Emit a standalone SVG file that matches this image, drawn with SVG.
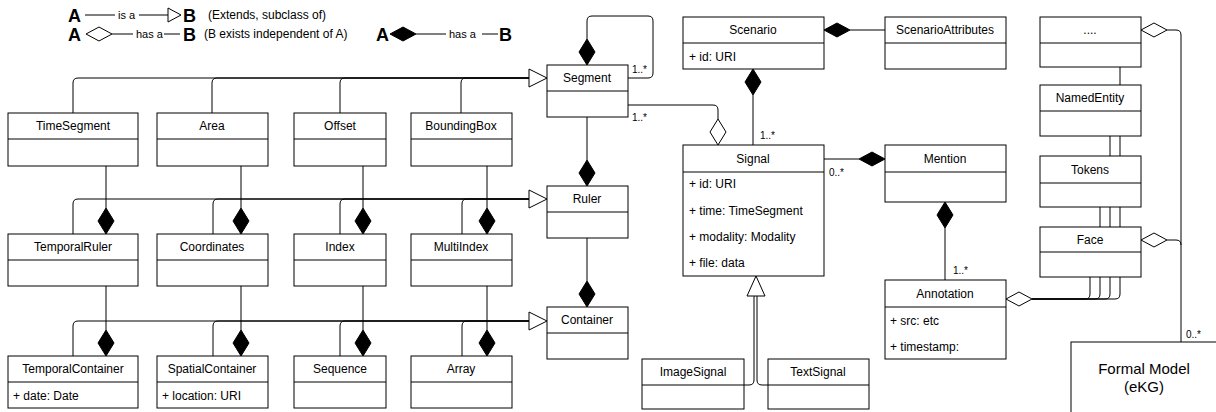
<svg xmlns="http://www.w3.org/2000/svg" width="1216" height="412" viewBox="0 0 1216 412">
<style>
.box{fill:#fff;stroke:#000;stroke-width:1}
.ln{fill:none;stroke:#000;stroke-width:1}
.t{font-family:"Liberation Sans",Arial,sans-serif;font-size:12px;fill:#000}
.c{text-anchor:middle}
.s{font-family:"Liberation Sans",Arial,sans-serif;font-size:10px;fill:#000}
.big{font-family:"Liberation Sans",Arial,sans-serif;font-size:18px;font-weight:bold;fill:#000}
.fd{fill:#000;stroke:#000}
.hd{fill:#fff;stroke:#000}
</style>
<defs>
<path id="dv" d="M0,0 L8,13 L0,26 L-8,13 Z"/>
<path id="dh" d="M0,0 L13,-7 L26,0 L13,7 Z"/>
</defs>
<rect width="1216" height="412" fill="#fff"/>
<g id="legend">
<text class="big" x="68" y="22">A</text>
<path class="ln" d="M85,15 H115 M139,15 H168"/>
<text class="t" x="118" y="19" style="font-size:11px">is a</text>
<polygon class="hd" points="168,8 181,15 168,22"/>
<text class="big" x="183" y="22">B</text>
<text class="t" x="208" y="19">(Extends, subclass of)</text>
<text class="big" x="68" y="41">A</text>
<use href="#dh" class="hd" x="86" y="34"/>
<path class="ln" d="M112,34 H133 M164,34 H180"/>
<text class="t" x="136" y="38" style="font-size:11px">has a</text>
<text class="big" x="183" y="41">B</text>
<text class="t" x="204" y="38">(B exists independent of A)</text>
<text class="big" x="376" y="41">A</text>
<use href="#dh" class="fd" x="390" y="34"/>
<path class="ln" d="M416,34 H446 M482,34 H498"/>
<text class="t" x="449" y="38" style="font-size:11px">has a</text>
<text class="big" x="499" y="41">B</text>
</g>
<g id="connectors">
<path class="ln" d="M73,113 V83 Q73,78 78,78 H530 M212,113 V83 Q212,78 217,78 H530 M340,113 V83 Q340,78 345,78 H530 M461,113 V83 Q461,78 466,78 H530"/>
<polygon class="hd" points="529,69 547,78 529,87"/>
<path class="ln" d="M73,234 V204 Q73,199 78,199 H529 M213,234 V204 Q213,199 218,199 H529 M340,234 V204 Q340,199 345,199 H529 M462,234 V204 Q462,199 467,199 H529"/>
<polygon class="hd" points="529,190 547,199 529,208"/>
<path class="ln" d="M73,356 V326 Q73,321 78,321 H529 M213,356 V326 Q213,321 218,321 H529 M340,356 V326 Q340,321 345,321 H529 M462,356 V326 Q462,321 467,321 H529"/>
<polygon class="hd" points="529,312 547,321 529,330"/>
<path class="ln" d="M106,166 V208 M241,166 V208 M363,166 V208 M487,166 V208 M106,286 V330 M241,286 V330 M363,286 V330 M487,286 V330"/>
<use href="#dv" class="fd" x="106" y="208"/>
<use href="#dv" class="fd" x="241" y="208"/>
<use href="#dv" class="fd" x="363" y="208"/>
<use href="#dv" class="fd" x="487" y="208"/>
<use href="#dv" class="fd" x="106" y="330"/>
<use href="#dv" class="fd" x="241" y="330"/>
<use href="#dv" class="fd" x="363" y="330"/>
<use href="#dv" class="fd" x="487" y="330"/>
<path class="ln" d="M587,39 V21 Q587,16 592,16 H648 Q653,16 653,21 V73 Q653,78 648,78 H628"/>
<use href="#dv" class="fd" x="587" y="39"/>
<text class="s" x="632" y="73">1..*</text>
<path class="ln" d="M628,105 H713 Q718,105 718,110 V119"/>
<use href="#dv" class="hd" x="718" y="119"/>
<text class="s" x="632" y="121">1..*</text>
<path class="ln" d="M587,117 V160 M587,238 V281"/>
<use href="#dv" class="fd" x="587" y="160"/>
<use href="#dv" class="fd" x="587" y="281"/>
<path class="ln" d="M753,95 V145"/>
<use href="#dv" class="fd" x="753" y="69"/>
<text class="s" x="760" y="139">1..*</text>
<path class="ln" d="M850,30 H885"/>
<use href="#dh" class="fd" x="824" y="30"/>
<path class="ln" d="M824,159 H859"/>
<use href="#dh" class="fd" x="859" y="159"/>
<text class="s" x="829" y="176">0..*</text>
<path class="ln" d="M945,228 V280"/>
<use href="#dv" class="fd" x="945" y="202"/>
<text class="s" x="953" y="274">1..*</text>
<path class="ln" d="M1120,67 V294 Q1120,299 1115,299 H1032 M1110,136 V294 Q1110,299 1105,299 H1032 M1100,207 V294 Q1100,299 1095,299 H1032 M1090,277 V294 Q1090,299 1085,299 H1032"/>
<use href="#dh" class="hd" x="1006" y="299"/>
<path class="ln" d="M1167,30 H1176 Q1181,30 1181,35 V342 M1167,240 H1176 Q1181,240 1181,245"/>
<use href="#dh" class="hd" x="1141" y="30"/>
<use href="#dh" class="hd" x="1141" y="240"/>
<text class="s" x="1186" y="338">0..*</text>
<path class="ln" d="M744,385 H749 Q754,385 754,380 V296 M768,385 H762 Q757,385 757,380 V296"/>
<polygon class="hd" points="756,276 765,296 747,296"/>
</g>
<g id="TimeSegment"><rect class="box" x="8" y="113" width="130" height="53"/><path class="ln" d="M8,139 H138"/><text class="t c" x="73" y="130">TimeSegment</text></g>
<g id="Area"><rect class="box" x="157" y="113" width="111" height="53"/><path class="ln" d="M157,139 H268"/><text class="t c" x="212" y="130">Area</text></g>
<g id="Offset"><rect class="box" x="294" y="113" width="92" height="53"/><path class="ln" d="M294,139 H386"/><text class="t c" x="340" y="130">Offset</text></g>
<g id="BoundingBox"><rect class="box" x="411" y="113" width="101" height="53"/><path class="ln" d="M411,139 H512"/><text class="t c" x="461" y="130">BoundingBox</text></g>
<g id="Segment"><rect class="box" x="547" y="65" width="81" height="52"/><path class="ln" d="M547,91 H628"/><text class="t c" x="587" y="82">Segment</text></g>
<g id="TemporalRuler"><rect class="box" x="8" y="234" width="130" height="52"/><path class="ln" d="M8,260 H138"/><text class="t c" x="73" y="251">TemporalRuler</text></g>
<g id="Coordinates"><rect class="box" x="157" y="234" width="111" height="52"/><path class="ln" d="M157,260 H268"/><text class="t c" x="212" y="251">Coordinates</text></g>
<g id="Index"><rect class="box" x="294" y="234" width="92" height="52"/><path class="ln" d="M294,260 H386"/><text class="t c" x="340" y="251">Index</text></g>
<g id="MultiIndex"><rect class="box" x="411" y="234" width="101" height="52"/><path class="ln" d="M411,260 H512"/><text class="t c" x="461" y="251">MultiIndex</text></g>
<g id="Ruler"><rect class="box" x="547" y="186" width="81" height="52"/><path class="ln" d="M547,212 H628"/><text class="t c" x="587" y="203">Ruler</text></g>
<g id="TemporalContainer"><rect class="box" x="8" y="356" width="130" height="52"/><path class="ln" d="M8,382 H138"/><text class="t c" x="73" y="373">TemporalContainer</text><text class="t" x="13" y="400">+ date: Date</text></g>
<g id="SpatialContainer"><rect class="box" x="157" y="356" width="111" height="52"/><path class="ln" d="M157,382 H268"/><text class="t c" x="212" y="373">SpatialContainer</text><text class="t" x="162" y="400">+ location: URI</text></g>
<g id="Sequence"><rect class="box" x="294" y="356" width="92" height="52"/><path class="ln" d="M294,382 H386"/><text class="t c" x="340" y="373">Sequence</text></g>
<g id="Array"><rect class="box" x="411" y="356" width="101" height="52"/><path class="ln" d="M411,382 H512"/><text class="t c" x="461" y="373">Array</text></g>
<g id="Container"><rect class="box" x="547" y="307" width="81" height="52"/><path class="ln" d="M547,333 H628"/><text class="t c" x="587" y="324">Container</text></g>
<g id="Scenario"><rect class="box" x="683" y="17" width="141" height="52"/><path class="ln" d="M683,43 H824"/><text class="t c" x="753" y="34">Scenario</text><text class="t" x="689" y="61">+ id: URI</text></g>
<g id="ScenarioAttributes"><rect class="box" x="885" y="17" width="121" height="52"/><path class="ln" d="M885,43 H1006"/><text class="t c" x="945" y="34">ScenarioAttributes</text></g>
<g id="Signal"><rect class="box" x="683" y="145" width="141" height="131"/><path class="ln" d="M683,172 H824"/><text class="t c" x="753" y="163">Signal</text><text class="t" x="689" y="188">+ id: URI</text><text class="t" x="689" y="215">+ time: TimeSegment</text><text class="t" x="689" y="241">+ modality: Modality</text><text class="t" x="689" y="267">+ file: data</text></g>
<g id="Mention"><rect class="box" x="885" y="145" width="121" height="57"/><path class="ln" d="M885,172 H1006"/><text class="t c" x="945" y="163">Mention</text></g>
<g id="Annotation"><rect class="box" x="885" y="280" width="121" height="79"/><path class="ln" d="M885,307 H1006"/><text class="t c" x="945" y="298">Annotation</text><text class="t" x="890" y="325">+ src: etc</text><text class="t" x="890" y="351">+ timestamp:</text></g>
<g id="ImageSignal"><rect class="box" x="642" y="359" width="102" height="50"/><path class="ln" d="M642,385 H744"/><text class="t c" x="693" y="376">ImageSignal</text></g>
<g id="TextSignal"><rect class="box" x="768" y="359" width="101" height="50"/><path class="ln" d="M768,385 H869"/><text class="t c" x="818" y="376">TextSignal</text></g>
<g id="Dots"><rect class="box" x="1040" y="17" width="101" height="50"/><path class="ln" d="M1040,43 H1141"/><text class="t c" x="1090" y="34">....</text></g>
<g id="NamedEntity"><rect class="box" x="1040" y="85" width="101" height="51"/><path class="ln" d="M1040,111 H1141"/><text class="t c" x="1090" y="102">NamedEntity</text></g>
<g id="Tokens"><rect class="box" x="1040" y="156" width="101" height="51"/><path class="ln" d="M1040,183 H1141"/><text class="t c" x="1090" y="174">Tokens</text></g>
<g id="Face"><rect class="box" x="1040" y="227" width="101" height="50"/><path class="ln" d="M1040,252 H1141"/><text class="t c" x="1090" y="244">Face</text></g>
<g id="FormalModel"><rect class="box" x="1071" y="342" width="160" height="80"/><text class="t c" x="1144" y="374" style="font-size:15px">Formal Model</text><text class="t c" x="1144" y="392" style="font-size:15px">(eKG)</text></g>
</svg>
